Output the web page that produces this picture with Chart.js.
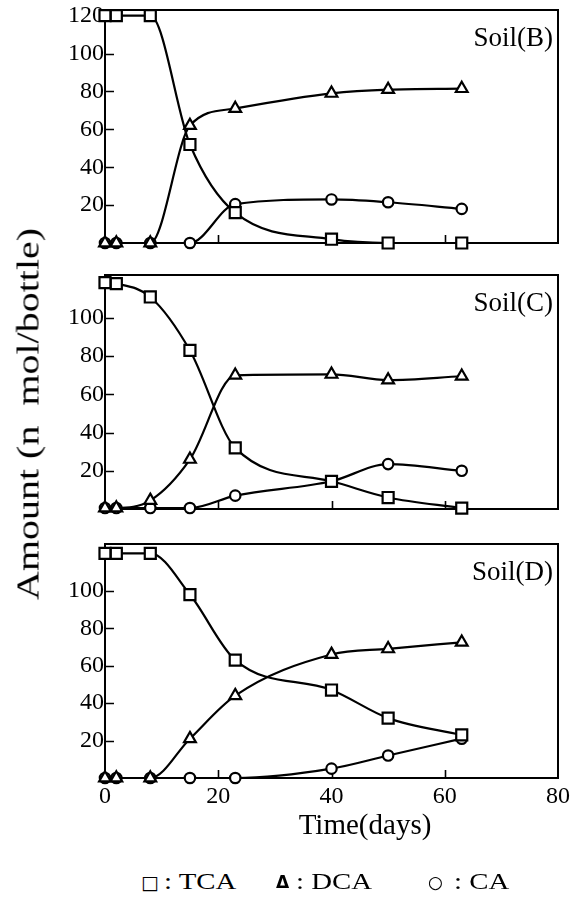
<!DOCTYPE html>
<html><head><meta charset="utf-8">
<script src="https://cdn.jsdelivr.net/npm/chart.js@4.4.1/dist/chart.umd.min.js"></script>
<style>
html,body{margin:0;padding:0;background:#fff;}
#wrap{position:relative;width:581px;height:903px;overflow:hidden;background:#fff;}
canvas{position:absolute;left:0;}
.txt{position:absolute;font-family:"Liberation Serif","Times New Roman",serif;color:#000;white-space:nowrap;line-height:1;}
.lg{position:absolute;font-family:"Liberation Serif","Times New Roman",serif;font-size:24px;color:#000;white-space:nowrap;line-height:1;transform-origin:left center;transform:translateY(-50%) scaleX(1.2);top:881px;}
.sym{position:absolute;color:#000;white-space:nowrap;line-height:1;transform:translateY(-50%);top:882px;}
</style></head><body>
<div id="wrap">
<canvas id="cB" width="581" height="260" style="top:0px"></canvas>
<canvas id="cC" width="581" height="260" style="top:260px"></canvas>
<canvas id="cD" width="581" height="300" style="top:520px"></canvas>
<div id="ytitle" class="txt" style="font-size:31px;left:28px;top:414px;">Amount (n&nbsp;&nbsp;mol/bottle)</div>
<div id="xtitle" class="txt" style="font-size:29px;left:365px;top:824px;transform:translate(-50%,-50%);">Time(days)</div>
<div class="sym" style="left:141px;font-family:'DejaVu Sans';font-size:19px;">□</div>
<div class="lg" style="left:164px;">: TCA</div>
<div class="sym" style="left:276px;font-family:'DejaVu Sans';font-size:17px;font-weight:bold;">Δ</div>
<div class="lg" style="left:296px;">: DCA</div>
<div class="sym" style="left:428px;font-family:'DejaVu Sans';font-size:17px;">○</div>
<div class="lg" style="left:454px;">: CA</div>
</div>
<script>
// ---- data ----
const days = [0, 2, 8, 15, 23, 40, 50, 63];
const seriesNames = ['TCA', 'DCA', 'CA'];
const panelLabels = ['Soil(B)', 'Soil(C)', 'Soil(D)'];

const tcaB = [120, 120, 120, 52, 16, 2, 0, 0];
const dcaB = [0, 0, 0, 62, 71, 79, 81, 81.5];
const caB  = [0, 0, 0, 0, 20.5, 23, 21.5, 18];

const tcaC = [118.5, 118, 111, 83, 32, 14.5, 6, 0.5];
const dcaC = [0.5, 0.5, 4.5, 26, 70, 70.5, 67.5, 69.5];
const caC  = [0.5, 0.5, 0.5, 0.5, 7, 14.5, 23.5, 20];

const tcaD = [120, 120, 120, 98, 63, 47, 32, 23];
const dcaD = [0, 0, 0, 21, 44, 66, 69, 72.5];
const caD  = [0, 0, 0, 0, 0, 5, 12, 21];

const xTicks = [0, 20, 40, 60, 80];
const xInnerTicks = [20, 40, 60];
const yTicksB = [20, 40, 60, 80, 100, 120];
const yTicksC = [20, 40, 60, 80, 100];
const yTicksD = [20, 40, 60, 80, 100];

// ---- styling ----
const FONT = '"Liberation Serif", "Times New Roman", serif';
const pointStyles = ['rect', 'triangle', 'circle'];
const pointRadii = [7.8, 6.8, 5.2];

function makeDatasets(arrs) {
  return arrs.map((vals, i) => ({
    label: seriesNames[i],
    data: days.map((d, j) => ({x: d, y: vals[j]})),
    borderColor: '#000',
    borderWidth: 2.2,
    pointStyle: pointStyles[i],
    pointRadius: pointRadii[i],
    pointBorderWidth: 2.2,
    pointBorderColor: '#000',
    pointBackgroundColor: '#fff',
    cubicInterpolationMode: 'monotone',
    fill: false,
    clip: false
  }));
}

const framePlugin = {
  id: 'frame',
  beforeDatasetsDraw(chart, args, opts) {
    const {ctx, chartArea: a} = chart;
    const xs = chart.scales.x, ys = chart.scales.y;
    ctx.save();
    ctx.strokeStyle = '#000';
    ctx.lineWidth = 2;
    ctx.strokeRect(a.left, a.top, a.right - a.left, a.bottom - a.top);
    ctx.lineWidth = 1.6;
    ctx.beginPath();
    ys.ticks.forEach(t => {
      const py = Math.round(ys.getPixelForValue(t.value)) + 0.5;
      ctx.moveTo(a.left, py); ctx.lineTo(a.left + 9, py);
    });
    xInnerTicks.forEach(v => {
      const px = Math.round(xs.getPixelForValue(v)) + 0.5;
      ctx.moveTo(px, a.bottom); ctx.lineTo(px, a.bottom - 8);
    });
    ctx.stroke();
    ctx.restore();
  },
  afterDraw(chart, args, opts) {
    const {ctx, chartArea: a} = chart;
    ctx.save();
    ctx.fillStyle = '#000';
    ctx.font = '27px ' + FONT;
    ctx.textAlign = 'right';
    ctx.textBaseline = 'alphabetic';
    ctx.fillText(opts.label, a.right - 5, a.top + 36);
    ctx.restore();
  }
};

function makeChart(id, arrs, yTicks, yMax, pad, showX, label) {
  return new Chart(document.getElementById(id), {
    type: 'line',
    data: {datasets: makeDatasets(arrs)},
    plugins: [framePlugin],
    options: {
      responsive: false,
      animation: false,
      events: [],
      layout: {padding: pad},
      plugins: {legend: {display: false}, tooltip: {enabled: false}, frame: {label: label}},
      scales: {
        x: {
          type: 'linear', min: 0, max: 80,
          display: showX,
          grid: {display: false, drawTicks: false},
          border: {display: false},
          afterBuildTicks: s => { s.ticks = xTicks.map(v => ({value: v})); },
          afterFit: s => { if (showX) s.height = 42; s.paddingLeft = 0; s.paddingRight = 0; },
          ticks: {color: '#000', font: {family: FONT, size: 24}, padding: 4, maxRotation: 0, autoSkip: false}
        },
        y: {
          type: 'linear', min: 0, max: yMax,
          grid: {display: false, drawTicks: false},
          border: {display: false},
          afterBuildTicks: s => { s.ticks = yTicks.map(v => ({value: v})); },
          afterFit: s => { s.width = 105; s.paddingTop = 0; s.paddingBottom = 0; },
          ticks: {color: '#000', font: {family: FONT, size: 24}, padding: 1, autoSkip: false}
        }
      }
    }
  });
}

makeChart('cB', [tcaB, dcaB, caB], yTicksB, 123, {top: 6, bottom: 17, left: 0, right: 23}, false, panelLabels[0]);
makeChart('cC', [tcaC, dcaC, caC], yTicksC, 122.5, {top: 15, bottom: 11, left: 0, right: 23}, false, panelLabels[1]);
makeChart('cD', [tcaD, dcaD, caD], yTicksD, 125, {top: 24, bottom: 0, left: 0, right: 23}, true, panelLabels[2]);

// y title: rotate and stretch to the reference length
const yt = document.getElementById('ytitle');
const w = yt.getBoundingClientRect().width;
const k = 372 / w;
yt.style.transform = 'translate(-50%,-50%) rotate(-90deg) scaleX(' + k.toFixed(3) + ')';
</script>
</body></html>
